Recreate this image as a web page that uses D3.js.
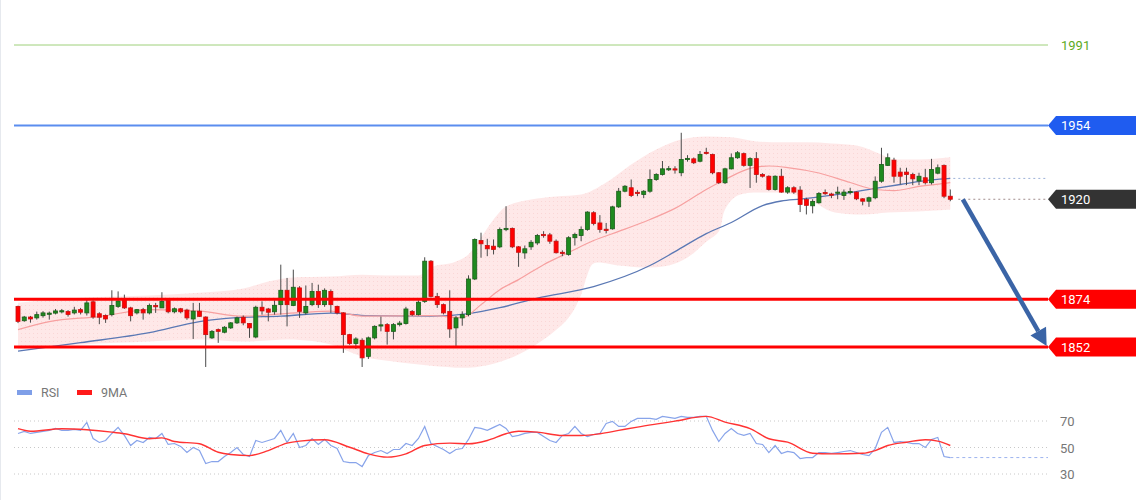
<!DOCTYPE html>
<html><head><meta charset="utf-8">
<script src="https://cdn.jsdelivr.net/npm/d3@7"></script>
<style>html,body{margin:0;padding:0;background:#fff;}svg{display:block;font-family:Roboto,"Liberation Sans",Arial,sans-serif;}</style>
</head><body><svg id="c" width="1140" height="500"></svg>
<script>
// ---------- DATA ----------
const opens  = [1870.7,1864.1,1865.8,1865.4,1866.4,1867.4,1867.6,1868.5,1868.3,1867.7,1869.2,1867.7,1872.8,1867.3,1866.5,1866.9,1870.7,1873.8,1870,1867.7,1869.2,1867.7,1871.1,1870,1873.5,1868.2,1869.6,1869,1864.9,1868.5,1865.8,1856.2,1860,1858.8,1860.8,1863.1,1865.7,1862.8,1856.6,1870.3,1869.5,1868.2,1871.5,1878.1,1871.1,1879.2,1867.7,1871.5,1877.6,1871.5,1877.6,1870.7,1867.7,1857.7,1853.6,1855.1,1847.7,1856.2,1861.8,1862.3,1859.2,1862.3,1862.8,1868.4,1866.9,1873,1891.5,1875.3,1871.5,1868.4,1860.8,1865.4,1866.9,1883.3,1901,1898.7,1898.4,1898.1,1906,1906.6,1898.1,1895.3,1898.1,1899.9,1903.8,1903.6,1900.7,1895.6,1894.6,1902.3,1903.3,1906.1,1913.8,1909.1,1906.2,1906.4,1916.5,1923.7,1925.3,1923.2,1922.2,1923.7,1929.1,1931.4,1933.9,1934,1932.2,1938.5,1938.6,1937.5,1941.6,1940.6,1932.2,1927.6,1934,1939.1,1941,1935.6,1938.7,1931.4,1930.6,1924.5,1930.6,1923.3,1925.3,1924.2,1919.9,1917,1918.4,1923.1,1922.4,1922.9,1921.7,1923.3,1923.3,1920.2,1919.1,1920.7,1928.3,1935.6,1938,1932.5,1932.5,1931.4,1928.4,1929.9,1927.6,1932,1935.6,1921.4];
const highs  = [1871,1866.3,1866.3,1868.3,1868.5,1868.3,1869.5,1869.5,1869,1870.5,1870,1874.5,1873.5,1868,1867,1878.1,1877.6,1876.1,1870.5,1869.5,1870,1872,1872.3,1877.2,1874,1870.2,1870,1869.6,1872.3,1872.3,1866.1,1859.8,1860.5,1861.6,1863.5,1866,1866.5,1863,1871,1873,1870,1873.5,1889.9,1883.8,1887.6,1880,1880.3,1881.5,1880.7,1879,1878.5,1871,1868,1858,1856.5,1856,1856.8,1862,1866,1863,1863,1864,1870.5,1869,1873.5,1893.3,1892,1876.9,1872,1878.1,1866.2,1868.4,1885,1902,1904.6,1901.8,1901.5,1907,1916.8,1907,1898.5,1898.7,1901.2,1904,1905.3,1904.5,1901.5,1896.5,1903,1904.6,1907.5,1914.5,1914.5,1912.7,1909.1,1917,1925.2,1926.5,1929.1,1924.2,1924.2,1933.7,1932,1937.6,1935.3,1935.2,1950.6,1940.3,1939.2,1942.2,1943.7,1941,1932.5,1934.5,1941.1,1942.2,1941.5,1939.3,1941.7,1932,1931,1931,1934,1926,1926,1926,1920.7,1920,1923.3,1924.5,1923,1925.8,1924.5,1925.3,1923.6,1920.5,1921.2,1930.5,1943.7,1941.1,1939.1,1934.5,1934.5,1932.2,1932.2,1934,1938.6,1936,1936,1924.5];
const lows   = [1863,1863.6,1863.2,1864.6,1865.5,1864.6,1867,1867.5,1866,1867,1867,1866.5,1865,1862.5,1863.1,1866.1,1870,1869.5,1863.8,1867,1864.6,1867,1867.7,1870,1867.5,1867.5,1867.5,1864.5,1855.7,1865.8,1842.8,1855.7,1853.9,1858.3,1860.3,1862.6,1862,1856.2,1856,1866.9,1863.8,1866.9,1866.9,1861.5,1870.8,1865.4,1866.9,1870.8,1870,1870.5,1867.7,1867,1849.3,1853,1851.1,1842.8,1846.5,1855.5,1859.2,1853.1,1855.5,1861.5,1862.3,1866.3,1866.5,1872.3,1874.8,1870,1867,1856.2,1852.3,1861.8,1866.1,1882.8,1893.1,1893.8,1894.6,1897.5,1905.3,1897.5,1888.9,1892.6,1896.7,1899,1902.3,1899.5,1895,1893.8,1894,1898.7,1900.7,1905.5,1908,1904.6,1904.3,1906,1916,1923.2,1921,1921.4,1920.5,1923,1928.5,1930.9,1933,1931.8,1930.6,1937.3,1936.2,1937,1940.6,1931.5,1927,1927,1933.7,1938.6,1935,1925.2,1927.6,1930,1924,1924,1923,1922.5,1922.5,1914.1,1913,1913.5,1918,1922,1920.5,1920,1919.7,1922.2,1919.6,1917.2,1916.5,1920,1927.6,1935.3,1927.6,1926.8,1926.5,1926.5,1926.5,1926.8,1926.8,1931.5,1920.5,1919.1];
const closes = [1863.8,1865.8,1864.9,1866.9,1867.7,1867.6,1868.6,1868.7,1867,1869,1868,1872.3,1865.8,1865.7,1864.9,1871.1,1873.2,1870,1866.4,1869.2,1867.7,1871.1,1870.5,1873,1868.2,1869.6,1868.2,1865.4,1868.5,1866.1,1857.7,1859.2,1859.2,1861.1,1863.1,1865.4,1863.1,1860.8,1870.3,1868.6,1868,1871.2,1878.1,1871.5,1879.5,1868.4,1870.7,1877.6,1871.5,1878.1,1871.5,1867.7,1857.7,1853.6,1855.7,1847,1856.2,1861.5,1862.2,1859.2,1862.3,1863,1869.5,1866.9,1872.6,1891.5,1875.3,1871.5,1867.7,1860.3,1865.4,1866.9,1883.3,1901.5,1899.5,1897.2,1896.9,1906.1,1906.6,1898.1,1895.6,1897.2,1900.2,1903.3,1903.5,1900.7,1895.4,1895.3,1902.3,1903.8,1906.1,1914.1,1908.8,1906.1,1906,1916.5,1923.7,1926,1921.7,1922.9,1923.7,1929.1,1931.4,1934,1934.1,1933.6,1938.3,1938.8,1936.8,1940.6,1941.3,1932.2,1927.6,1934,1939.1,1941.4,1935.6,1938.7,1931.4,1930.6,1924.5,1930.6,1923.3,1925.3,1923.3,1917.6,1917.2,1919,1922.7,1922.9,1922,1923.3,1923.3,1923.6,1920.2,1919.1,1920.7,1928.3,1936,1939.1,1930.6,1930.6,1931.4,1929.4,1930.6,1927.6,1933.7,1934.5,1921.4,1920];

// slow moving average (blue), read at candle indices
const slowIdx = [0,10,21,29,35,42,50,56,66,72,77,83,92,101,105,110,114,119,122,125,133,137,141,146,149];
const slowVal = [1850.1,1854.0,1858.6,1863.7,1865.5,1866.2,1867.6,1866.4,1866.2,1867.4,1870.1,1874.5,1879.8,1889.5,1895.9,1904.2,1909.3,1917.1,1919.2,1920.1,1923.1,1925.0,1926.8,1928.9,1929.6];
// middle band (pink)
const midIdx = [0,5,13,21,29,36,45,50,55,66,71,74,77,80,84,88,92,96,101,105,110,113,117,120,123,128,133,137,140,144,149];
const midVal = [1860.0,1863.7,1866.0,1869.2,1868.5,1866.2,1867.8,1868.5,1866.2,1866.4,1865.5,1871.5,1878.4,1883.0,1889.9,1895.5,1901.0,1905.2,1910.7,1915.8,1924.5,1929.1,1934.2,1935.3,1934.6,1932.1,1927.7,1924.5,1924.0,1925.9,1927.7];
// upper / lower band
const upIdx = [0,10,21,29,36,40,44,50,55,60,64,66,70,72,74,76,78,82,86,90,94,98,102,106,110,114,118,122,126,130,134,138,140,144,149];
const upVal = [1872.4,1874.7,1875.7,1877.0,1878.9,1882.1,1884.0,1884.4,1885.3,1884.9,1884.9,1888.6,1891.3,1894.6,1902.4,1910.7,1916.7,1919.9,1921.3,1922.2,1927.7,1936.0,1942.9,1947.5,1948.9,1948.5,1946.6,1946.2,1946.2,1945.7,1944.8,1940.6,1938.3,1938.3,1939.3];
const loIdx = [0,10,21,29,36,44,50,55,60,66,72,76,80,84,88,90,91,92,96,100,104,107,110,112,113,115,120,124,127,130,135,139,144,149];
const loVal = [1850.8,1853.1,1854.5,1855.4,1854.5,1855.4,1853.1,1847.6,1845.3,1843.4,1842.5,1844.3,1848.5,1855.4,1865.5,1876.1,1885.3,1890.4,1889.5,1888.6,1889.5,1893.2,1900.5,1905.2,1915.3,1921.7,1923.1,1922.2,1919.0,1914.4,1913.0,1913.9,1914.4,1915.3];

// key levels
const levels = [
  {v:1991, label:"1991", kind:"green"},
  {v:1954, label:"1954", kind:"blue"},
  {v:1874, label:"1874", kind:"red"},
  {v:1852, label:"1852", kind:"red"}
];
const lastPrice = 1920;
const lastSlow = 1929.6;
const arrowFrom = {i:151, v:1920};
const arrowTo = {i:164.4, v:1852.5};

// RSI
const rsi = [60.6,62.1,60.6,61.4,62.1,62.9,64.4,62.9,62.9,63.6,62.9,68.9,56.8,53.8,55.3,60.6,65.2,59.1,51.5,55.3,53.8,57.6,56.8,60.6,52.3,53.0,50.8,46.2,50.0,47.7,37.9,39.4,39.4,43.2,46.2,50.0,44.7,43.2,55.3,53.8,55.3,56.8,62.9,53.8,60.6,50.0,51.5,56.8,52.3,56.1,51.5,49.2,39.4,38.6,38.6,35.6,43.9,46.2,47.7,45.5,48.5,48.5,53.0,51.5,56.8,65.9,53.0,50.8,48.5,45.5,48.5,49.2,56.1,65.2,64.4,62.9,65.2,67.4,64.4,58.3,59.1,60.6,61.4,61.4,58.3,55.3,53.8,59.1,60.6,65.9,60.6,58.3,59.8,60.6,68.2,69.7,65.9,65.9,69.7,72.0,72.0,72.0,71.2,73.5,72.7,72.0,73.5,72.7,72.7,73.5,73.5,62.9,54.5,60.6,64.4,60.6,59.1,60.6,53.0,52.3,46.2,51.5,45.5,47.0,46.2,41.7,42.4,42.4,46.2,46.2,45.5,46.2,47.0,47.7,46.2,44.7,43.9,49.2,61.4,65.2,53.8,54.5,53.8,53.0,53.0,50.0,56.1,57.6,43.2,42.4];
const rsiMaIdx = [0,2,7,11,15,17,21,23,25,29,32,34,37,40,43,45,49,53,56,59,62,65,69,72,75,78,80,83,87,90,93,96,99,103,105,110,113,117,120,123,127,130,135,137,139,142,145,147,149];
const rsiMaVal = [64.2,62.3,64.2,63.4,61.6,60.4,56.6,57.3,54.5,52.8,46.4,44.7,43.9,47.7,53.3,54.8,55.8,50.2,45.2,42.7,45.2,51.5,53.3,52.8,55.3,60.4,62.3,61.6,59.1,59.1,60.4,62.9,65.4,68.4,69.9,73.5,69.2,64.2,56.6,54.0,45.7,45.2,45.7,47.7,51.5,54.0,55.8,54.8,51.5];
const rsiTicks = [70, 50, 30];
const legendItems = [{name:"RSI", color:"#7f9fe8"}, {name:"9MA", color:"#ff1a1a"}];

// ---------- DRAW ----------
const svg = d3.select("#c");
const n = closes.length;
const x = d3.scaleLinear().domain([0, n - 1]).range([18, 950.3]);
const y = d3.scaleLinear().domain([1852, 1991]).range([347, 45]);
const yr = d3.scaleLinear().domain([30, 70]).range([474, 421]);
const L = 14, R = 1048;

svg.append("line").attr("x1",0.5).attr("x2",0.5).attr("y1",0).attr("y2",500).attr("stroke","#e6e9ee");

// pattern for band
const defs = svg.append("defs");
const pat = defs.append("pattern").attr("id","dots").attr("width",4).attr("height",4).attr("patternUnits","userSpaceOnUse");
pat.append("rect").attr("width",4).attr("height",4).attr("fill","#fee8e8");
pat.append("rect").attr("x",1).attr("y",1).attr("width",1).attr("height",1).attr("fill","#fad6d6");

const pts = (ix, vals) => ix.map((d,k) => [x(d), y(vals[k])]);
const lineMono = d3.line().curve(d3.curveMonotoneX);
const upPath = lineMono(pts(upIdx, upVal));
const loPts = pts(loIdx, loVal).reverse();
const loPath = d3.line().curve(d3.curveCatmullRom.alpha(0.5))(loPts).replace(/^M/, "L");
svg.append("path").attr("d", upPath + loPath + "Z").attr("fill","url(#dots)");

// MA lines
svg.append("path").attr("d", lineMono(pts(slowIdx, slowVal))).attr("fill","none").attr("stroke","#5a78b4").attr("stroke-width",1.3);
svg.append("path").attr("d", lineMono(pts(midIdx, midVal))).attr("fill","none").attr("stroke","#f7a0a0").attr("stroke-width",1.2);

// candles
const cg = svg.append("g");
const bw = 4;
d3.range(n).forEach(i => {
  const o = opens[i], c = closes[i], up = c >= o;
  const cx = x(i);
  cg.append("line").attr("x1",cx).attr("x2",cx).attr("y1",y(highs[i])).attr("y2",y(lows[i])).attr("stroke","#4a4a4a").attr("stroke-width",1);
  const top = y(Math.max(o,c)), h = Math.max(1.2, Math.abs(y(o)-y(c)));
  cg.append("rect").attr("x",cx-bw/2).attr("y",top).attr("width",bw).attr("height",h)
    .attr("fill", up ? "#1f8a1f" : "#ff0000").attr("stroke", up ? "#1a5e1a" : "#c81010").attr("stroke-width",0.8);
});

// level lines
const styles = {
  green:{stroke:"#9ed07a", w:1, box:null, text:"#5cab1f"},
  blue:{stroke:"#5b8def", w:2, box:"#1f5cf0", text:"#fff"},
  red:{stroke:"#ff0000", w:3, box:"#ff0000", text:"#fff"}
};
const boxPath = (yy) => `M${R},${yy} L${R+8},${yy-9.5} L1136,${yy-9.5} L1136,${yy+9.5} L${R+8},${yy+9.5} Z`;
levels.forEach(l => {
  const s = styles[l.kind], yy = y(l.v);
  svg.append("line").attr("x1",L).attr("x2",R).attr("y1",yy).attr("y2",yy).attr("stroke",s.stroke).attr("stroke-width",s.w);
  if (s.box) svg.append("path").attr("d", boxPath(yy)).attr("fill", s.box);
  svg.append("text").attr("x",1061).attr("y",yy+4.5).attr("fill",s.text).attr("font-size",13).text(l.label);
});

// dotted lines for last values
svg.append("line").attr("x1",x(n-1)+3).attr("x2",R).attr("y1",y(lastSlow)).attr("y2",y(lastSlow)).attr("stroke","#9db1d8").attr("stroke-width",1).attr("stroke-dasharray","2,3");
svg.append("line").attr("x1",x(n-1)+8).attr("x2",R).attr("y1",y(lastPrice)).attr("y2",y(lastPrice)).attr("stroke","#a08c8c").attr("stroke-width",1).attr("stroke-dasharray","2,3");
svg.append("path").attr("d", boxPath(y(lastPrice))).attr("fill","#333");
svg.append("text").attr("x",1061).attr("y",y(lastPrice)+4.5).attr("fill","#fff").attr("font-size",13).text(String(lastPrice));

// arrow
const ax1 = x(arrowFrom.i), ay1 = y(arrowFrom.v), ax2 = x(arrowTo.i), ay2 = y(arrowTo.v);
const ang = Math.atan2(ay2-ay1, ax2-ax1), hl = 17, hw = 9;
const bx = ax2 - hl*Math.cos(ang), by = ay2 - hl*Math.sin(ang);
svg.append("line").attr("x1",ax1).attr("y1",ay1).attr("x2",bx).attr("y2",by).attr("stroke","#3a64a6").attr("stroke-width",4.5);
svg.append("path").attr("d",`M${ax2},${ay2} L${bx - hw*Math.sin(ang)},${by + hw*Math.cos(ang)} L${bx + hw*Math.sin(ang)},${by - hw*Math.cos(ang)} Z`).attr("fill","#3a64a6");

// legend
const lg = svg.append("g");
legendItems.forEach((d,k) => {
  const lx = 17 + k*60;
  lg.append("rect").attr("x",lx).attr("y",390).attr("width",15).attr("height",5).attr("fill",d.color);
  lg.append("text").attr("x",lx+24).attr("y",397).attr("fill","#777").attr("font-size",12.5).text(d.name);
});

// RSI grid + axis
rsiTicks.forEach(t => {
  svg.append("line").attr("x1",L).attr("x2",R).attr("y1",yr(t)).attr("y2",yr(t)).attr("stroke","#c8c8c8").attr("stroke-width",1).attr("stroke-dasharray","1,3");
});
const rax = svg.append("g").attr("transform",`translate(1060,0)`).call(d3.axisRight(yr).tickValues(rsiTicks).tickSize(0).tickPadding(0));
rax.select(".domain").remove();
rax.selectAll("text").attr("fill","#777").attr("font-size",13).attr("font-family","Roboto, Arial, sans-serif").attr("dy","0.35em");

// RSI line
svg.append("path").attr("d", d3.line().x((d,i)=>x(i)).y(d=>yr(d))(rsi)).attr("fill","none").attr("stroke","#88a4ea").attr("stroke-width",1.2);
svg.append("line").attr("x1",x(n-1)).attr("x2",R).attr("y1",yr(rsi[n-1])).attr("y2",yr(rsi[n-1])).attr("stroke","#9db4ee").attr("stroke-width",1).attr("stroke-dasharray","3,3");
svg.append("path").attr("d", lineMono(rsiMaIdx.map((d,k)=>[x(d), yr(rsiMaVal[k])]))).attr("fill","none").attr("stroke","#ff3333").attr("stroke-width",1.4);
</script></body></html>
